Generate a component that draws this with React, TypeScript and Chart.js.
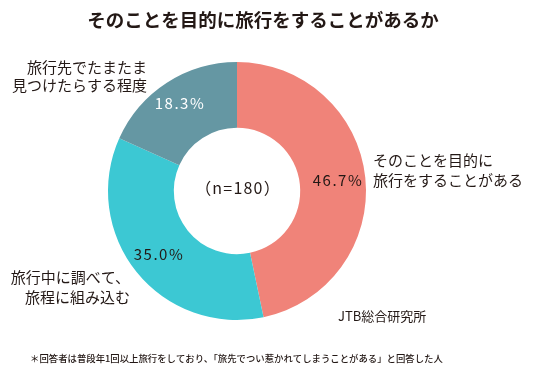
import React, { useEffect, useRef } from "react";
import { Chart, registerables } from "chart.js";

Chart.register(...registerables);

const categories = [
  "そのことを目的に旅行をすることがある",
  "旅行中に調べて、旅程に組み込む",
  "旅行先でたまたま見つけたらする程度",
];
const values = [46.7, 35.0, 18.3];
const colors = ["#F08379", "#3CC8D3", "#6597A3"];
const title = "そのことを目的に旅行をすることがあるか";
const centerText = "（n=180）";
const source = "JTB総合研究所";
const footnote = "＊回答者は普段年1回以上旅行をしており、「旅先でつい惹かれてしまうことがある」と回答した人";

const FONT = '"Noto Sans CJK JP", "Noto Sans", sans-serif';
const DARK = "#231815";

const labelsPlugin = {
  id: "labelsPlugin",
  afterDraw(chart: any) {
    const ctx = chart.ctx;
    ctx.save();
    ctx.textBaseline = "middle";
    // title
    ctx.fillStyle = DARK;
    ctx.font = `bold 18.5px ${FONT}`;
    ctx.textAlign = "center";
    ctx.fillText(title, 263, 20);

    // center text
    ctx.font = `16px ${FONT}`;
    (ctx as any).letterSpacing = "1.2px";
    ctx.fillText(centerText, 238, 188);

    // percent labels
    ctx.font = `15px ${FONT}`;
    (ctx as any).letterSpacing = "1.5px";
    ctx.fillStyle = DARK;
    ctx.fillText(values[0].toFixed(1) + "%", 338, 180);
    ctx.fillText(values[1].toFixed(1) + "%", 159, 254);
    ctx.fillStyle = "#FFFFFF";
    ctx.fillText(values[2].toFixed(1) + "%", 180, 103);
    (ctx as any).letterSpacing = "0px";

    // category labels
    ctx.fillStyle = DARK;
    ctx.font = `15px ${FONT}`;
    ctx.textAlign = "left";
    ctx.fillText("そのことを目的に", 373, 160);
    ctx.fillText("旅行をすることがある", 373, 180);
    ctx.textAlign = "right";
    ctx.fillText("旅行先でたまたま", 147, 67);
    ctx.fillText("見つけたらする程度", 147, 85);
    ctx.fillText("旅行中に調べて、", 130, 277);
    ctx.fillText("旅程に組み込む", 130, 297);

    // source
    ctx.textAlign = "left";
    ctx.font = `13px ${FONT}`;
    ctx.fillText(source, 338, 316);

    // footnote
    ctx.font = `500 9.4px ${FONT}`;
    ctx.fillText(footnote, 30, 358);
    ctx.restore();
  },
};

export default function App() {
  const ref = useRef<HTMLCanvasElement | null>(null);
  useEffect(() => {
    document.body.style.margin = "0";
    const canvas = ref.current!;
    const chart = new Chart(canvas, {
      type: "doughnut",
      data: {
        labels: categories,
        datasets: [
          {
            data: values,
            backgroundColor: colors,
            borderWidth: 0,
          },
        ],
      },
      options: {
        responsive: false,
        animation: false,
        cutout: "49%",
        rotation: 0,
        layout: { padding: { left: 108, right: 170, top: 62, bottom: 47 } },
        plugins: {
          legend: { display: false },
          title: { display: false },
          tooltip: { enabled: false },
        },
      },
      plugins: [labelsPlugin],
    });
    return () => chart.destroy();
  }, []);
  return (
    <div style={{ width: 536, height: 367, background: "#fff" }}>
      <canvas ref={ref} width={536} height={367} style={{ display: "block" }} />
    </div>
  );
}
